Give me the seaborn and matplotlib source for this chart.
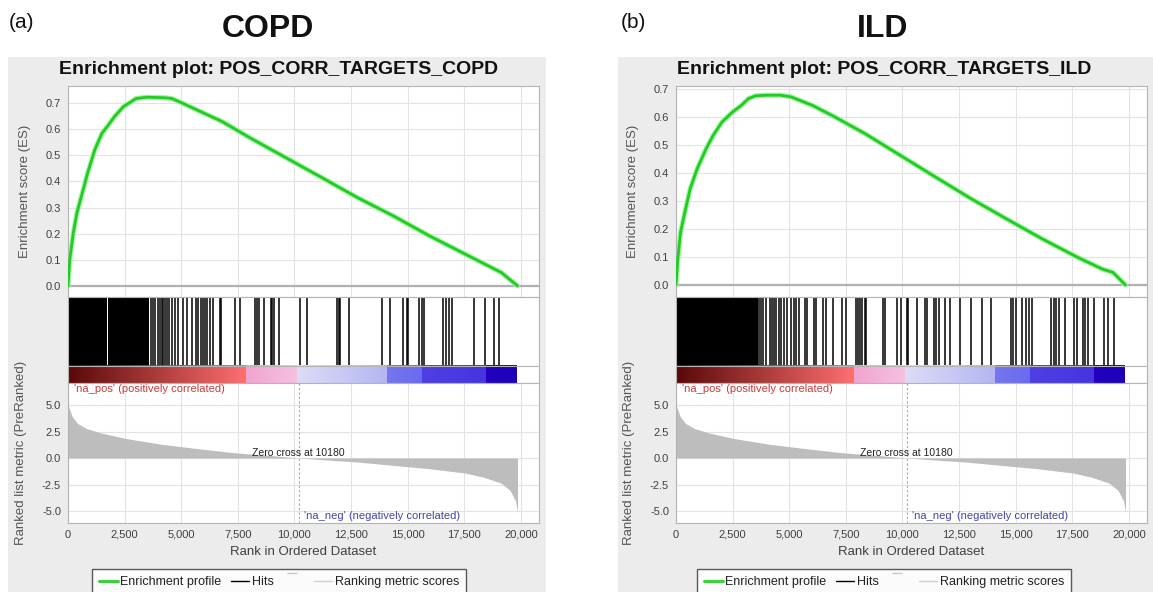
import numpy as np
import matplotlib
matplotlib.use("Agg")
import matplotlib.pyplot as plt
from matplotlib.lines import Line2D
from matplotlib.patches import Rectangle
from matplotlib.colors import LinearSegmentedColormap
from matplotlib.ticker import FuncFormatter
import seaborn as sns

# ---------------------------------------------------------------- data
# ranked gene list (PreRanked) shared by both analyses
zero_cross = 10180
metric_rank = [0, 30, 190, 425, 820, 1450, 2560, 4135, 5715, 7290, 8870,
               10180, 11240, 12820, 14400, 15975, 17550, 18340, 19130,
               19525, 19760, 19850]
metric_value = [4.95, 4.84, 3.90, 3.26, 2.78, 2.37, 1.84, 1.30, 0.89, 0.51,
                0.25, 0.0, -0.16, -0.38, -0.70, -1.01, -1.42, -1.80, -2.37,
                -3.07, -4.02, -5.13]

# heat-map bar of the ranked list: segment edges and their colours
bar_edges = [0, 7870, 10100, 14100, 15650, 18440, 19800]
bar_start_colors = ["#5a0808", "#f2a4cf", "#dcdcf8", "#7676ef", "#4e40e4", "#2200c2"]
bar_end_colors = ["#ff7070", "#f6c0df", "#b4b6f2", "#6a6aee", "#4634df", "#1c00b6"]

# COPD gene set
copd_es_rank = [0, 79, 237, 395, 632, 870, 1186, 1502, 1739, 2055, 2450, 2688,
                3004, 3478, 4269, 4585, 5059, 5850, 6798, 8063, 9644, 11225,
                12806, 14388, 15969, 17550, 19131, 19850]
copd_es = [0.0, 0.102, 0.204, 0.280, 0.356, 0.433, 0.522, 0.585, 0.611, 0.649,
           0.687, 0.700, 0.718, 0.723, 0.721, 0.718, 0.700, 0.668, 0.630,
           0.566, 0.490, 0.414, 0.337, 0.267, 0.191, 0.121, 0.051, 0.0]
copd_hit_blocks = [(0, 1710), (1770, 3580)]
copd_hits = [3660, 3740, 3850, 3980, 4055, 4135, 4215, 4295, 4370, 4450, 4610,
             4735, 4845, 5080, 5240, 5475, 5635, 5745, 5870, 5950, 6030, 6155,
             6265, 6425, 6695, 6740, 7370, 7575, 8270, 8365, 8430, 8635, 8950,
             9030, 9110, 9315, 10260, 10575, 11870, 11950, 12030, 12420, 13845,
             14240, 14790, 14950, 15030, 15500, 15625, 15740, 16575, 16685,
             16840, 16955, 17950, 18420, 18815, 19050]

# ILD gene set
ild_es_rank = [0, 78, 203, 390, 625, 937, 1328, 1640, 2031, 2500, 2890, 3203,
               3515, 3984, 4609, 5078, 6015, 6953, 8359, 9922, 11484, 13047,
               14609, 16172, 17734, 18828, 19297, 19850]
ild_es = [0.0, 0.093, 0.189, 0.260, 0.344, 0.416, 0.487, 0.535, 0.583, 0.619,
          0.643, 0.667, 0.677, 0.679, 0.679, 0.673, 0.643, 0.604, 0.541, 0.463,
          0.385, 0.308, 0.236, 0.165, 0.099, 0.057, 0.045, 0.0]
ild_hit_blocks = [(0, 3600)]
ild_hits = [3670, 3750, 3860, 3985, 4140, 4220, 4330, 4420, 4530, 4640, 4765,
            4920, 5080, 5200, 5310, 5420, 5700, 5780, 6095, 6200, 6485, 6640,
            6920, 7345, 7500, 7970, 8045, 8125, 8200, 8330, 8390, 9140, 9220,
            9765, 9950, 10200, 10265, 10625, 11015, 11095, 11405, 11485, 11610,
            11875, 12110, 12545, 13045, 13515, 13905, 14800, 14890, 15000,
            15265, 15470, 15580, 15700, 16560, 16690, 16800, 16920, 17190,
            17580, 17700, 17970, 18045, 18200, 18440, 18905, 19060, 19330]

rank_ticks = [0, 2500, 5000, 7500, 10000, 12500, 15000, 17500, 20000]
es_ticks = [0.0, 0.1, 0.2, 0.3, 0.4, 0.5, 0.6, 0.7]
metric_ticks = [-5.0, -2.5, 0.0, 2.5, 5.0]

# ---------------------------------------------------------------- style
sns.set_theme(style="white")
plt.rcParams["font.family"] = ["Liberation Sans", "DejaVu Sans"]

W, H = 1153, 592
fig = plt.figure(figsize=(W / 100, H / 100), dpi=100)
fig.patch.set_facecolor("white")

GRID = "#e3e3e3"
SPINE = "#b4b4b4"
TICKTXT = "#404040"
LABELTXT = "#555555"
X_MAX = 20800


def px_box(x0, y0, x1, y1):
    """Pixel box (top-left origin) -> figure fraction rectangle."""
    return [x0 / W, 1 - y1 / H, (x1 - x0) / W, (y1 - y0) / H]


def style_axes(ax):
    ax.set_facecolor("white")
    for s in ax.spines.values():
        s.set_color(SPINE)
        s.set_linewidth(0.8)
    ax.tick_params(colors=SPINE, labelcolor=TICKTXT, labelsize=8,
                   length=2.5, width=0.7, pad=2.5)


def draw_panel(left, box, centre, tag, header, title, es_rank, es, es_top,
               hit_blocks, hits):
    # grey frame behind the whole enrichment plot
    fig.patches.append(Rectangle((box[0] / W, 0), (box[1] - box[0]) / W,
                                 1 - 57 / H, transform=fig.transFigure,
                                 facecolor="#ececec", edgecolor="none",
                                 zorder=-10))
    fig.text(tag[0] / W, 1 - tag[1] / H, tag[2], fontsize=15,
             ha="left", va="center", color="#111111")
    fig.text(header[0] / W, 1 - 29 / H, header[1], fontsize=23,
             fontweight="bold", ha="center", va="center", color="#111111")
    fig.text(centre / W, 1 - 70 / H, title, fontsize=14, fontweight="bold",
             ha="center", va="center", color="#111111")

    right = left + 471

    # --- running enrichment score
    ax = fig.add_axes(px_box(left, 86, right, 297))
    style_axes(ax)
    ax.set_xlim(0, X_MAX)
    ax.set_ylim(-0.043, es_top)
    ax.set_xticks(rank_ticks)
    ax.set_yticks(es_ticks)
    ax.yaxis.set_major_formatter(FuncFormatter(lambda v, p: f"{v:.1f}"))
    ax.tick_params(axis="x", length=0, labelbottom=False)
    ax.grid(True, color=GRID, lw=0.8)
    ax.set_axisbelow(True)
    ax.axhline(0, color="#b0b0b0", lw=1.6, zorder=1)
    sns.lineplot(x=es_rank, y=es, ax=ax, color="#9ff29f", lw=3.6,
                 sort=False, zorder=2)
    sns.lineplot(x=es_rank, y=es, ax=ax, color="#22cc22", lw=2.0,
                 sort=False, zorder=3)
    ax.set_ylabel("Enrichment score (ES)", fontsize=9.5, color=LABELTXT)
    ax.yaxis.set_label_coords(-0.078, 0.5)

    # --- hits and ranked-list heat bar
    axm = fig.add_axes(px_box(left, 297, right, 383))
    style_axes(axm)
    axm.set_xlim(0, X_MAX)
    axm.set_ylim(0, 1)
    axm.set_xticks([])
    axm.set_yticks([])
    for a, b in hit_blocks:
        axm.fill_between([a, b], 0.2, 1.0, color="black", lw=0)
    axm.vlines(hits, 0.2, 1.0, color="black", lw=1.1)
    grad = np.linspace(0, 1, 256)[None, :]
    for a, b, c0, c1 in zip(bar_edges[:-1], bar_edges[1:],
                            bar_start_colors, bar_end_colors):
        cmap = LinearSegmentedColormap.from_list("seg", [c0, c1])
        axm.imshow(grad, cmap=cmap, extent=(a, b, 0, 0.2), aspect="auto",
                   interpolation="bilinear", zorder=2)
    axm.axhline(0.2, color=SPINE, lw=0.8, zorder=3)

    # --- ranked list metric
    axb = fig.add_axes(px_box(left, 383, right, 523))
    style_axes(axb)
    axb.set_xlim(0, X_MAX)
    axb.set_ylim(-6.13, 7.08)
    axb.set_xticks(rank_ticks)
    axb.xaxis.set_major_formatter(FuncFormatter(lambda v, p: f"{int(v):,}"))
    axb.set_yticks(metric_ticks)
    axb.yaxis.set_major_formatter(FuncFormatter(lambda v, p: f"{v:.1f}"))
    axb.grid(True, color=GRID, lw=0.8)
    axb.set_axisbelow(True)
    axb.fill_between(metric_rank, metric_value, 0, color="#bdbdbd", lw=0,
                     zorder=2)
    axb.axvline(zero_cross, color="#a8a8a8", lw=0.8, ls=(0, (2, 2)), zorder=3)
    axb.text(zero_cross, 0.05, f"Zero cross at {zero_cross}", fontsize=7.5,
             ha="center", va="bottom", color="#222222", zorder=4)
    axb.text(250, 6.5, "'na_pos' (positively correlated)", fontsize=8,
             ha="left", va="center", color="#c83c3c", zorder=4)
    axb.text(10420, -5.45, "'na_neg' (negatively correlated)", fontsize=8,
             ha="left", va="center", color="#4444aa", zorder=4)
    axb.set_ylabel("Ranked list metric (PreRanked)", fontsize=9.5,
                   color=LABELTXT)
    axb.yaxis.set_label_coords(-0.086, 0.5)
    axb.set_xlabel("Rank in Ordered Dataset", fontsize=9.5, color=TICKTXT)
    axb.xaxis.set_label_coords(0.5, -0.165)

    # --- legend strip
    handles = [
        Line2D([0], [0], color="#3ad43a", lw=2.2),
        Line2D([0], [0], color="black", lw=1.0),
        Line2D([0], [0], ls="none", marker=[(-1, 1.6), (1, 1.6)],
               markersize=12, markeredgecolor="#c8c8c8",
               markerfacecolor="none", markeredgewidth=1.0),
        Line2D([0], [0], color="#cfcfcf", lw=1.0),
    ]
    labels = ["Enrichment profile", "Hits", "", "Ranking metric scores"]
    leg = fig.legend(handles, labels, loc="upper center",
                     bbox_to_anchor=(centre / W, 1 - 569 / H), ncol=4,
                     fontsize=9, frameon=True, fancybox=False,
                     handlelength=1.5, handletextpad=0.2, columnspacing=0.75,
                     borderpad=0.55, borderaxespad=0)
    frame = leg.get_frame()
    frame.set_edgecolor("#333333")
    frame.set_linewidth(1.0)
    frame.set_facecolor("white")
    for t in leg.get_texts():
        t.set_color("#222222")


draw_panel(68, (8, 546), 279, (9, 22, "(a)"), (268, "COPD"),
           "Enrichment plot: POS_CORR_TARGETS_COPD",
           copd_es_rank, copd_es, 0.766, copd_hit_blocks, copd_hits)
draw_panel(676, (618, 1153), 884, (621, 22, "(b)"), (883, "ILD"),
           "Enrichment plot: POS_CORR_TARGETS_ILD",
           ild_es_rank, ild_es, 0.712, ild_hit_blocks, ild_hits)

fig.savefig("out.png", dpi=100, facecolor="white")
